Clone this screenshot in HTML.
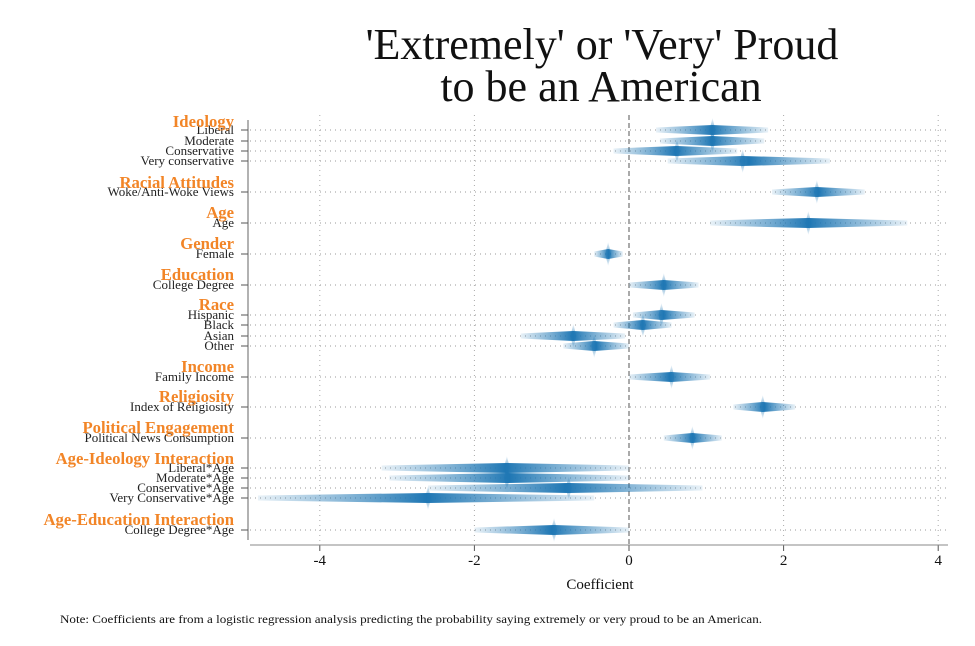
<!DOCTYPE html>
<html><head><meta charset="utf-8"><style>
body{margin:0;background:#fff;}
svg{display:block;font-family:"Liberation Serif",serif;}
</style></head><body>
<svg id="chart" width="975" height="646" viewBox="0 0 975 646">
<defs>
<linearGradient id="hg" x1="0" x2="1" y1="0" y2="0">
<stop offset="0" stop-color="#1f77b4" stop-opacity="0.1"/>
<stop offset="0.3" stop-color="#1f77b4" stop-opacity="0.6"/>
<stop offset="0.5" stop-color="#1f77b4" stop-opacity="1"/>
<stop offset="0.7" stop-color="#1f77b4" stop-opacity="0.6"/>
<stop offset="1" stop-color="#1f77b4" stop-opacity="0.1"/>
</linearGradient>
<linearGradient id="vg" x1="0" x2="0" y1="0" y2="1">
<stop offset="0" stop-color="#1f77b4" stop-opacity="0.05"/>
<stop offset="0.5" stop-color="#1f77b4" stop-opacity="0.6"/>
<stop offset="1" stop-color="#1f77b4" stop-opacity="0.05"/>
</linearGradient>
</defs>
<text x="602" y="59" font-size="44" text-anchor="middle" fill="#111">'Extremely' or 'Very' Proud</text>
<text x="601" y="101" font-size="44" text-anchor="middle" fill="#111">to be an American</text>
<g id="grid"></g>
<g id="marks"></g>
<g id="labels"></g>
<text x="600" y="589" font-size="15" text-anchor="middle" fill="#111">Coefficient</text>
<text x="60" y="623" font-size="11.5" fill="#111" textLength="702" lengthAdjust="spacingAndGlyphs">Note: Coefficients are from a logistic regression analysis predicting the probability saying extremely or very proud to be an American.</text>
</svg>
<script>
const headers=["Ideology","Racial Attitudes","Age","Gender","Education","Race","Income","Religiosity","Political Engagement","Age-Ideology Interaction","Age-Education Interaction"];
const headerY=[122,183,213,244,275,305,367,397,428,459,520];
const labels=["Liberal","Moderate","Conservative","Very conservative","Woke/Anti-Woke Views","Age","Female","College Degree","Hispanic","Black","Asian","Other","Family Income","Index of Religiosity","Political News Consumption","Liberal*Age","Moderate*Age","Conservative*Age","Very Conservative*Age","College Degree*Age"];
const rowY=[130,141,151,161,192,223,254,285,315,325,336,346,377,407,438,468,478,488,498,530];
const coef=[1.08,1.08,0.62,1.47,2.43,2.32,-0.27,0.45,0.42,0.18,-0.72,-0.45,0.55,1.73,0.82,-1.58,-1.58,-0.78,-2.6,-0.97];
const lo=[0.35,0.4,-0.2,0.5,1.85,1.05,-0.45,0,0.05,-0.2,-1.4,-0.85,0,1.35,0.45,-3.2,-3.1,-2.6,-4.8,-2.0];
const hi=[1.8,1.75,1.4,2.6,3.05,3.6,-0.08,0.9,0.85,0.55,-0.05,0,1.05,2.15,1.2,0,0,0.95,-0.45,0];
const ticks=[-4,-2,0,2,4];
const X=v=>629+v*77.3;
const ns="http://www.w3.org/2000/svg";
function mk(t,a,p){const e=document.createElementNS(ns,t);for(const k in a)e.setAttribute(k,a[k]);p.appendChild(e);return e;}
const grid=document.getElementById('grid'),marks=document.getElementById('marks'),lab=document.getElementById('labels');
rowY.forEach(y=>{const l=mk('line',{x1:250,x2:948,y1:y,y2:y,stroke:'#999','stroke-width':1,'stroke-dasharray':'1 4'},grid);

});
ticks.forEach(t=>{const x=X(t);
const g=mk('line',{x1:x,x2:x,y1:115,y2:545,stroke:t===0?'#555':'#aaa','stroke-width':1,'stroke-dasharray':t===0?'5 3':'1 4'},grid);


const tk=mk('line',{x1:x,x2:x,y1:545,y2:551,stroke:'#555'},grid);


const tx=mk('text',{x:x,y:565,'font-size':15,'text-anchor':'middle',fill:'#111'},grid);tx.textContent=t;

});
const xa=mk('line',{x1:250,x2:948,y1:545,y2:545,stroke:'#888'},grid);


const ya=mk('line',{x1:248,x2:248,y1:120,y2:540,stroke:'#666'},grid);


coef.forEach((c,i)=>{const y=rowY[i],a=X(lo[i]),b=X(hi[i]),m=X(c);
const p=mk('polygon',{points:`${a},${y-2.5} ${m},${y-5} ${b},${y-2.5} ${b},${y+2.5} ${m},${y+5} ${a},${y+2.5}`,fill:'url(#hg)'},marks);


const s=mk('polygon',{points:`${m},${y-12} ${m+3},${y} ${m},${y+12} ${m-3},${y}`,fill:'url(#vg)'},marks);

});
labels.forEach((t,i)=>{const y=rowY[i];
const tk=mk('line',{x1:241,x2:248,y1:y,y2:y,stroke:'#555'},lab);


const e=mk('text',{x:234,y:y+4,'font-size':13,'text-anchor':'end',fill:'#222'},lab);e.textContent=t;

});
headers.forEach((t,i)=>{const e=mk('text',{x:234,y:headerY[i]+5,'font-size':16.7,'font-weight':'bold','text-anchor':'end',fill:'#f28527'},lab);e.textContent=t;

});
</script>
</body></html>
